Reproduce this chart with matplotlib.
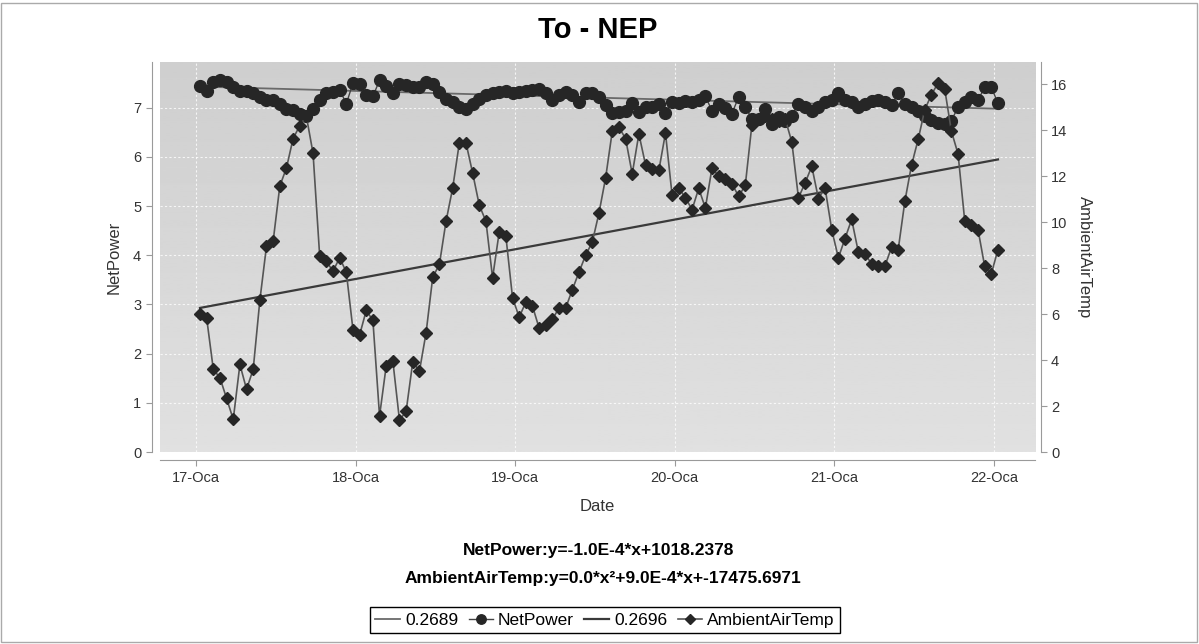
import numpy as np
import pandas as pd
import matplotlib
matplotlib.use('Agg')
import matplotlib.pyplot as plt
from matplotlib.patches import Rectangle

plt.rcParams['font.family'] = ['Liberation Sans', 'DejaVu Sans']

# hourly readings, 17-Oca .. 22-Oca
start = '2014-01-17 00:36'
net_power = [7.45, 7.35, 7.52, 7.57, 7.52, 7.42, 7.35, 7.34, 7.29, 7.22,
             7.16, 7.15, 7.08, 6.98, 6.96, 6.88, 6.84, 6.98, 7.15, 7.29,
             7.32, 7.37, 7.08, 7.50, 7.49, 7.25, 7.23, 7.56, 7.45, 7.29,
             7.49, 7.47, 7.42, 7.42, 7.52, 7.49, 7.32, 7.18, 7.11, 7.01,
             6.98, 7.08, 7.18, 7.25, 7.30, 7.32, 7.34, 7.29, 7.32, 7.35,
             7.37, 7.39, 7.29, 7.15, 7.25, 7.32, 7.25, 7.11, 7.29, 7.29,
             7.22, 7.05, 6.89, 6.91, 6.94, 7.09, 6.91, 7.01, 7.01, 7.08,
             6.89, 7.11, 7.09, 7.13, 7.11, 7.15, 7.23, 6.94, 7.08, 7.00,
             6.88, 7.22, 7.01, 6.78, 6.78, 6.98, 6.67, 6.81, 6.74, 6.84,
             7.08, 7.01, 6.94, 7.01, 7.11, 7.15, 7.29, 7.15, 7.11, 7.01,
             7.08, 7.13, 7.15, 7.11, 7.05, 7.29, 7.08, 7.01, 6.94, 6.84,
             6.76, 6.69, 6.67, 6.74, 7.01, 7.11, 7.22, 7.15, 7.42, 7.42,
             7.09]
air_temp = [6.00, 5.83, 3.60, 3.23, 2.33, 1.42, 3.81, 2.73, 3.60, 6.60,
            8.96, 9.17, 11.57, 12.36, 13.64, 14.20, 14.60, 13.00, 8.52, 8.30,
            7.87, 8.45, 7.83, 5.33, 5.09, 6.16, 5.73, 1.57, 3.74, 3.96,
            1.38, 1.78, 3.93, 3.52, 5.19, 7.61, 8.16, 10.04, 11.49, 13.45,
            13.45, 12.14, 10.74, 10.04, 7.58, 9.58, 9.39, 6.71, 5.87, 6.52,
            6.35, 5.39, 5.52, 5.78, 6.27, 6.27, 7.07, 7.83, 8.57, 9.14,
            10.40, 11.93, 13.96, 14.13, 13.64, 12.10, 13.84, 12.50, 12.33, 12.25,
            13.88, 11.17, 11.49, 11.06, 10.55, 11.47, 10.62, 12.36, 12.00, 11.90,
            11.67, 11.13, 11.60, 14.25, 14.50, 14.60, 14.50, 14.40, 14.50, 13.49,
            11.06, 11.71, 12.43, 11.03, 11.49, 9.68, 8.45, 9.29, 10.12, 8.71,
            8.60, 8.20, 8.09, 8.09, 8.91, 8.81, 10.91, 12.48, 13.60, 14.90,
            15.55, 16.06, 15.78, 13.96, 12.97, 10.07, 9.90, 9.68, 8.09, 7.75,
            8.81]
# regression lines, value at first and last reading
net_trend = [7.43, 6.98]
temp_trend = [6.27, 12.73]
r2_labels = ['0.2689', '0.2696']
day_labels = ['17-Oca', '18-Oca', '19-Oca', '20-Oca', '21-Oca', '22-Oca']
equations = ['NetPower:y=-1.0E-4*x+1018.2378',
             'AmbientAirTemp:y=0.0*x\u00b2+9.0E-4*x+-17475.6971']

times = pd.date_range(start, periods=len(net_power), freq='h')
trend_times = [times[0], times[-1]]
days = pd.date_range('2014-01-17', periods=len(day_labels), freq='D')

fig = plt.figure(figsize=(11.99, 6.44), dpi=100)
ax = fig.add_axes([0.1334, 0.2981, 0.7298, 0.6056])
ax2 = ax.twinx()

# light gray plot background, a bit lighter towards the bottom
grad = np.linspace(0.88, 0.81, 200).reshape(-1, 1)
ax.imshow(grad, extent=[0, 1, 0, 1], transform=ax.transAxes, aspect='auto',
          cmap='gray', vmin=0, vmax=1, origin='lower', zorder=0)

ln_ntrend, = ax.plot(trend_times, net_trend, color='#6a6a6a', lw=1.3, zorder=2)
ln_net, = ax.plot(times, net_power, color='#444444', lw=1.0, marker='o',
                  markersize=8.5, markerfacecolor='#262626',
                  markeredgecolor='#262626', zorder=3)
ln_ttrend, = ax2.plot(trend_times, temp_trend, color='#3a3a3a', lw=1.6, zorder=2)
ln_temp, = ax2.plot(times, air_temp, color='#555555', lw=1.2, marker='D',
                    markersize=6, markerfacecolor='#262626',
                    markeredgecolor='#262626', zorder=3)

x0 = matplotlib.dates.date2num(days[0])
ax.set_xlim(x0 - 0.226, x0 + 5.257)
ax.set_ylim(0, 7.93)
ax2.set_ylim(0, 16.97)
ax.set_xticks(days)
ax.set_xticklabels(day_labels)
ax.set_yticks(range(0, 8))
ax2.set_yticks(range(0, 17, 2))

ax.grid(True, color='white', linestyle=(0, (2, 2)), lw=0.8, alpha=0.8)

for a in (ax, ax2):
    for s in a.spines.values():
        s.set_color('#9a9a9a')
    a.spines['top'].set_visible(False)
    a.tick_params(direction='out', length=4, color='#9a9a9a',
                  labelsize=10.5, labelcolor='#333333')
ax.spines['left'].set_position(('outward', 6))
ax.spines['bottom'].set_position(('outward', 6))
ax.spines['right'].set_visible(False)
ax2.spines['left'].set_visible(False)
ax2.spines['bottom'].set_visible(False)
ax2.spines['right'].set_position(('outward', 4))

ax.set_xlabel('Date', fontsize=12, color='#333333', labelpad=10)
ax.set_ylabel('NetPower', fontsize=12, color='#333333', labelpad=8)
ax2.set_ylabel('AmbientAirTemp', fontsize=12, color='#333333',
               rotation=270, labelpad=18)

fig.text(598 / 1199, 1 - 30 / 644, 'To - NEP', ha='center', va='center',
         fontsize=21, fontweight='bold')
fig.text(599 / 1199, 1 - 551 / 644, equations[0], ha='center', va='center',
         fontsize=12.5, fontweight='bold')
fig.text(603 / 1199, 1 - 578 / 644, equations[1], ha='center', va='center',
         fontsize=12.5, fontweight='bold')

leg = fig.legend([ln_ntrend, ln_net, ln_ttrend, ln_temp],
                 [r2_labels[0], 'NetPower', r2_labels[1], 'AmbientAirTemp'],
                 loc='center', bbox_to_anchor=(605 / 1199, 1 - 620 / 644),
                 ncol=4, fontsize=12.5, frameon=True, fancybox=False,
                 edgecolor='black', framealpha=1, handlelength=1.4,
                 handletextpad=0.3, columnspacing=0.6, borderpad=0.3,
                 markerscale=0.8)
leg.get_frame().set_linewidth(1.0)

fig.patches.append(Rectangle((0.001, 0.003), 0.997, 0.993,
                             transform=fig.transFigure, fill=False,
                             edgecolor='#aaaaaa', lw=1.0))

fig.savefig('out.png', dpi=100)
